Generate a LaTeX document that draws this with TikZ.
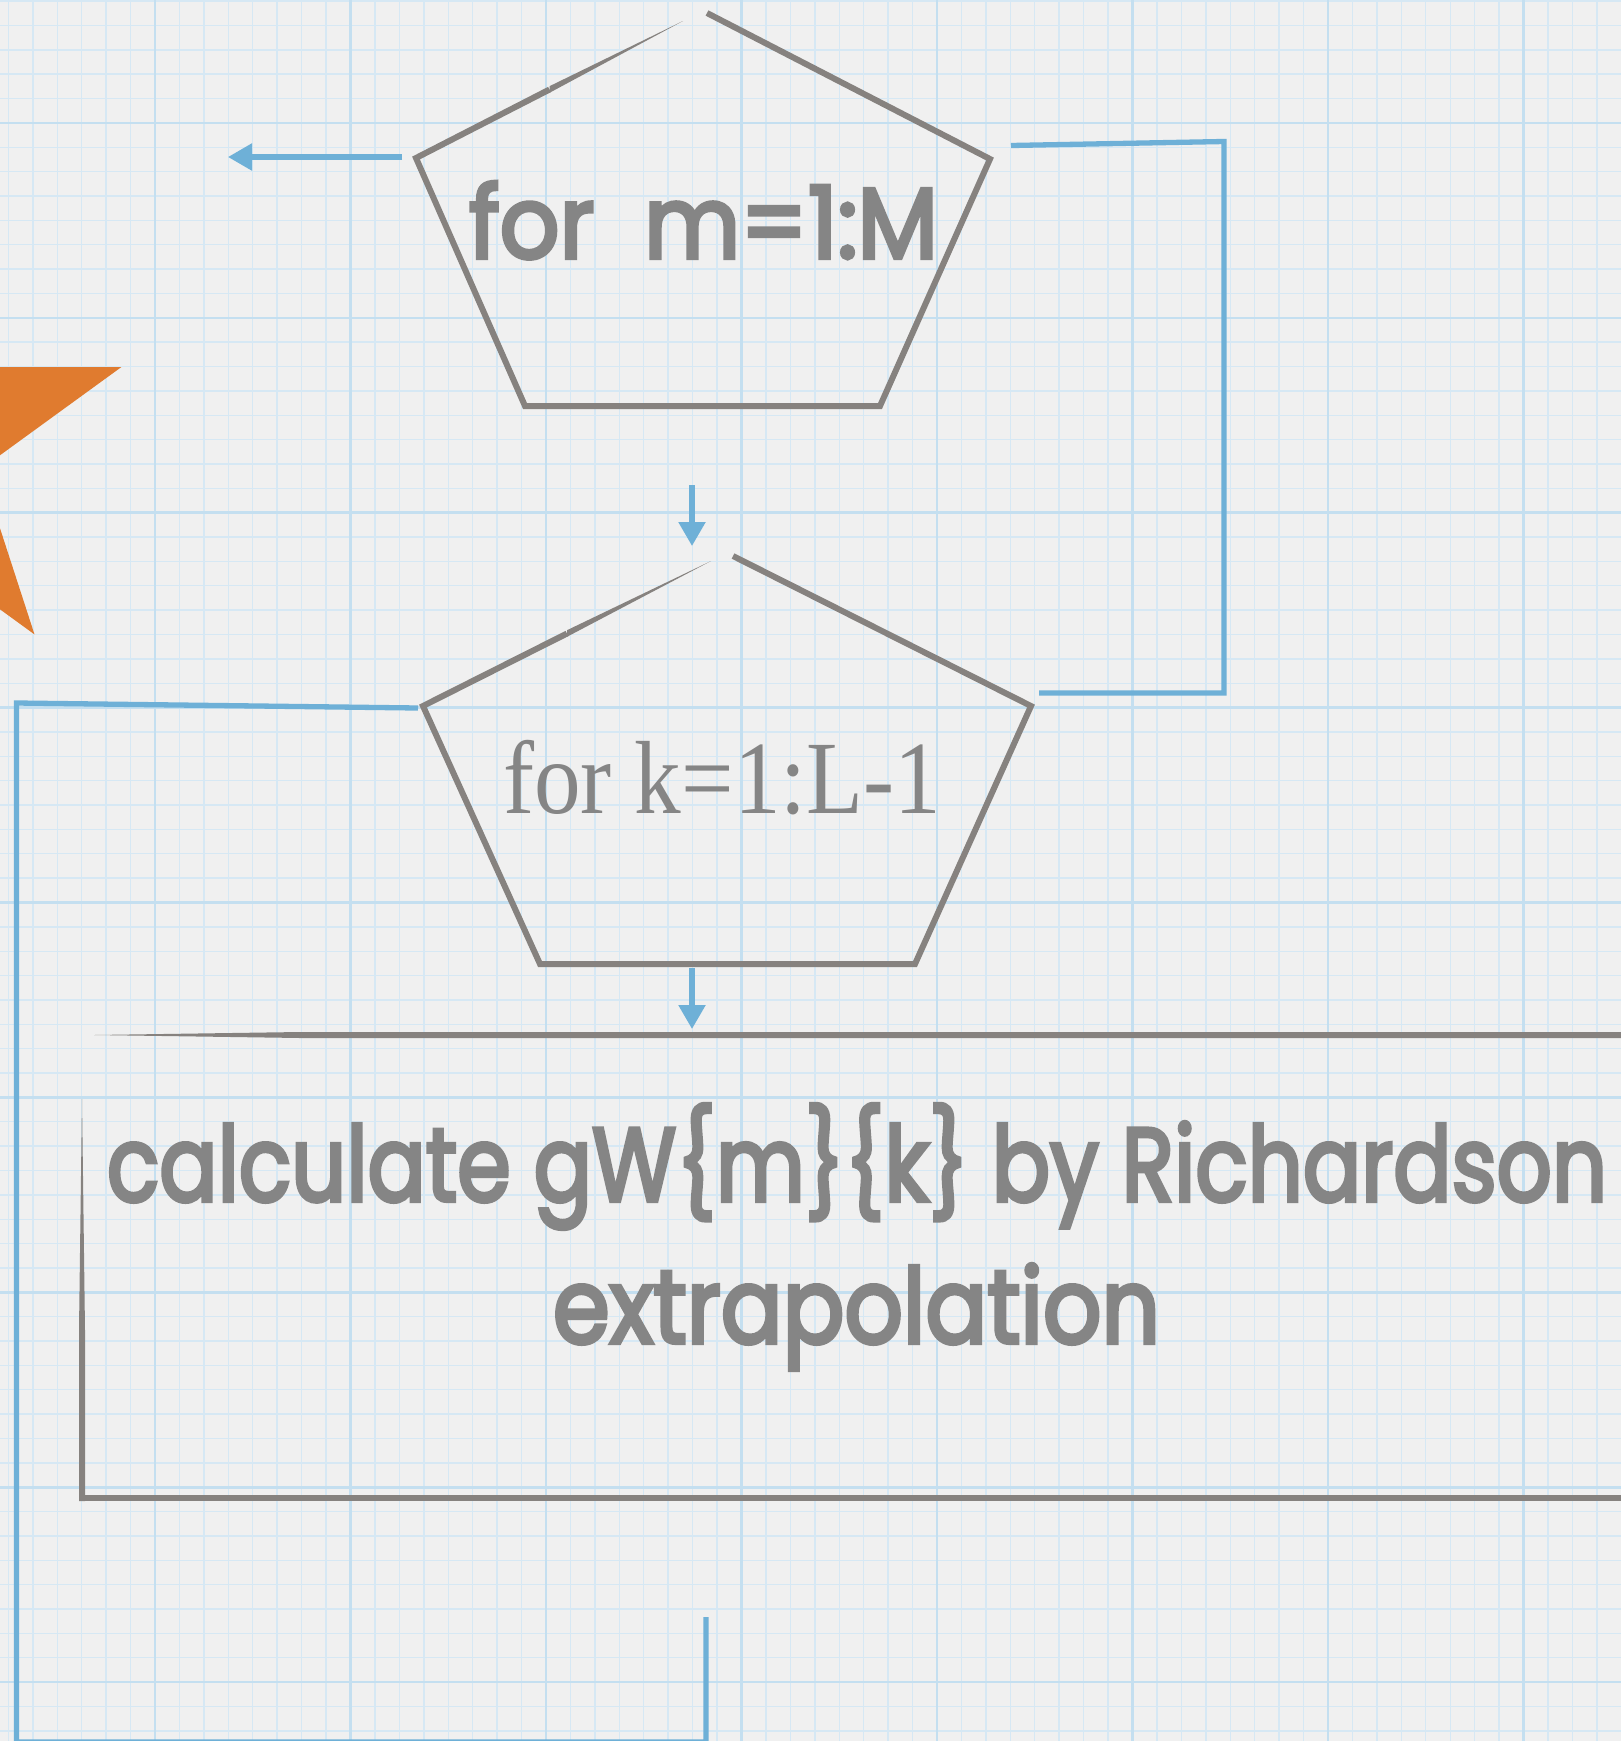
\documentclass[tikz,border=0pt]{standalone}
\usepackage{fontspec}
\usepackage{graphicx}
\usetikzlibrary{arrows.meta,calc}
\newfontfamily\handfont{Poppins}[FakeBold=4]
\newfontfamily\serifont{Liberation Serif}
\definecolor{paper}{HTML}{F0F0F0}
\definecolor{minorc}{RGB}{214,232,244}
\definecolor{majorc}{RGB}{196,223,240}
\definecolor{linkblue}{RGB}{110,176,215}
\definecolor{shapegray}{RGB}{134,130,127}
\definecolor{textgray}{RGB}{133,133,133}
\definecolor{starc}{RGB}{224,123,47}
\tikzset{
  minorgrid/.style={draw=minorc, line width=1.4pt},
  majorgrid/.style={draw=majorc, line width=2.6pt},
  conn/.style={draw=linkblue, line width=5.3pt},
  arr/.style={conn, -{Triangle[length=24pt,width=26pt]}},
  shapeline/.style={draw=shapegray, line width=6pt, line join=miter},
  handtext/.style={text=textgray, inner sep=0pt, anchor=base},
}
\begin{document}
\begin{tikzpicture}[x=1pt,y=-1pt]
\useasboundingbox (0,0) rectangle (1621,1741);
\clip (0,0) rectangle (1621,1741);
% paper and grid
\fill[paper] (0,0) rectangle (1621,1741);
\foreach \j in {0,...,70} {\draw[minorgrid] ({-40.5+\j*24.4375},0) -- ({-40.5+\j*24.4375},1741);}
\foreach \j in {0,...,76} {\draw[minorgrid] (0,{-72+\j*24.3625}) -- (1621,{-72+\j*24.3625});}
\foreach \i in {0,...,9} {\draw[majorgrid] ({-40.5+\i*195.5},0) -- ({-40.5+\i*195.5},1741);}
\foreach \i in {0,...,9} {\draw[majorgrid] (0,{-72+\i*194.9}) -- (1621,{-72+\i*194.9});}
% orange star (partly off the page)
\fill[starc] (-106,202) -- (-52.3,367.1) -- (121.3,367.1) -- (-19.2,469.2) -- (34.5,634.4)
  -- (-106,532.3) -- (-246.5,634.4) -- (-192.8,469.2) -- (-333.3,367.1) -- (-159.7,367.1) -- cycle;
% pentagon 1
\coordinate (p1s) at (707,13);
\coordinate (p1r) at (990,159);
\coordinate (p1br) at (880,406);
\coordinate (p1bl) at (525,406);
\coordinate (p1l) at (416,158);
\coordinate (p1m) at (549.5,89.5);
\coordinate (p1g) at (683,21);
\draw[shapeline] (p1s) -- (p1r) -- (p1br) -- (p1bl) -- (p1l) -- (p1m);
\fill[shapegray] ($(p1m)+(0,-3.3)$) -- (p1g) -- ($(p1m)+(0,3.3)$) -- cycle;
% pentagon 2
\coordinate (p2s) at (733,556);
\coordinate (p2r) at (1031,706);
\coordinate (p2br) at (915,964);
\coordinate (p2bl) at (540,964);
\coordinate (p2l) at (423,706);
\coordinate (p2m) at (567,633.5);
\coordinate (p2g) at (711,561);
\draw[shapeline] (p2s) -- (p2r) -- (p2br) -- (p2bl) -- (p2l) -- (p2m);
\fill[shapegray] ($(p2m)+(0,-3.3)$) -- (p2g) -- ($(p2m)+(0,3.3)$) -- cycle;
% process rectangle (right side beyond the page)
\fill[shapegray] (94,1035) -- (300,1032) -- (1650,1032) -- (1650,1038) -- (300,1038) -- cycle;
\fill[shapegray] (82,1099) -- (85,1330) -- (85,1501) -- (79,1501) -- (79,1330) -- cycle;
\draw[shapeline] (79,1498) -- (1650,1498);
% texts
\node[handtext] (t1) at (703.5,258) {\handfont\fontsize{100}{100}\selectfont\resizebox{469pt}{\height}{for~~m=1:M}};
\node[handtext] (t2) at (722,813) {\serifont\fontsize{104}{104}\selectfont\resizebox{438pt}{\height}{for k=1:L-1}};
\node[handtext] (t3a) at (857,1201) {\handfont\fontsize{104}{104}\selectfont\resizebox{1500pt}{\height}{calculate gW\{m\}\{k\} by Richardson}};
\node[handtext] (t3b) at (856.5,1343) {\handfont\fontsize{104}{104}\selectfont\resizebox{607pt}{\height}{extrapolation}};
% connectors
\coordinate (a1s) at (402,157);
\coordinate (a1e) at (228,157);
\draw[arr] (a1s) -- (a1e);
\coordinate (a2s) at (692,485);
\coordinate (a2e) at (692,546);
\draw[arr] (a2s) -- (a2e);
\coordinate (a3s) at (692,968);
\coordinate (a3e) at (692,1029);
\draw[arr] (a3s) -- (a3e);
\coordinate (b1) at (1011,145.5);
\coordinate (b2) at (1224,141.5);
\coordinate (b3) at (1224,693);
\coordinate (b4) at (1039,693);
\draw[conn, line join=miter] (b1) -- (b2) -- (b3) -- (b4);
\coordinate (l1) at (418,708);
\coordinate (l2) at (16.5,703);
\coordinate (l3) at (16.5,1742);
\coordinate (l4) at (706,1742);
\coordinate (l5) at (706,1617);
\draw[conn, line join=miter] (l1) -- (l2) -- (l3) -- (l4) -- (l5);
\end{tikzpicture}
\end{document}
